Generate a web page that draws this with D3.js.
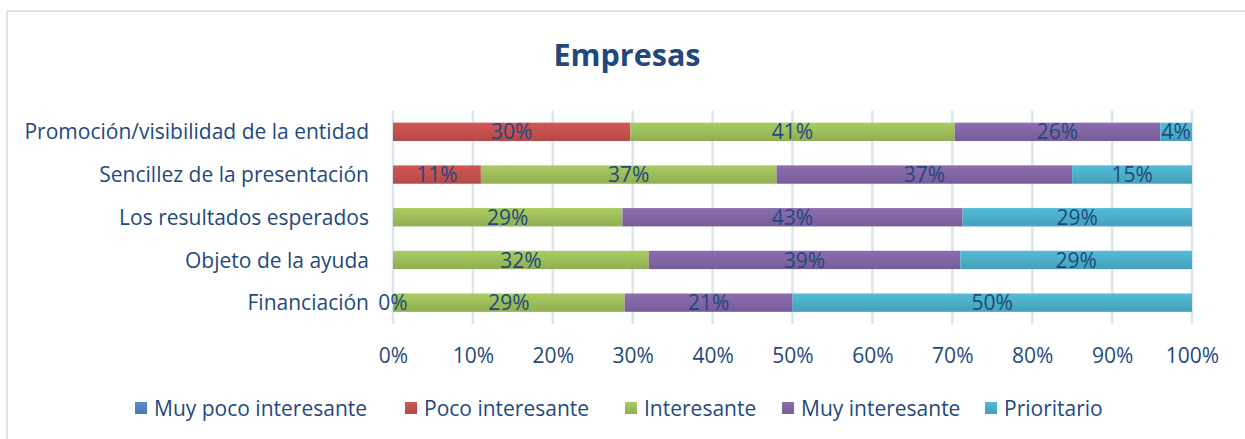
<!DOCTYPE html>
<html>
<head>
<meta charset="utf-8">
<script src="https://cdn.jsdelivr.net/npm/d3@7"></script>
<style>
  html, body { margin: 0; padding: 0; background: #fff; }
  svg { display: block; }
</style>
</head>
<body>
<svg id="chart" width="1245" height="439"></svg>
<script>
const title = "Empresas";
const categories = [
  "Promoción/visibilidad de la entidad",
  "Sencillez de la presentación",
  "Los resultados esperados",
  "Objeto de la ayuda",
  "Financiación"
];
const seriesNames = ["Muy poco interesante", "Poco interesante", "Interesante", "Muy interesante", "Prioritario"];
const seriesColors = ["#4F81BD", "#C0504D", "#9BBB59", "#8064A2", "#4BACC6"];
// values per series, in category order (null = no data)
const muyPoco      = [null, null, null, null, 0];
const poco         = [30, 11, null, null, null];
const interesante  = [41, 37, 29, 32, 29];
const muyInteres   = [26, 37, 43, 39, 21];
const prioritario  = [4, 15, 29, 29, 50];
const tickLabels = ["0%", "10%", "20%", "30%", "40%", "50%", "60%", "70%", "80%", "90%", "100%"];

const seriesValues = [muyPoco, poco, interesante, muyInteres, prioritario];

const svg = d3.select("#chart");
const FONT = "'Open Sans', 'Noto Sans', sans-serif";
const TEXT = "#1F497D";
const FS = 21;

// frame
svg.append("rect").attr("x", 7).attr("y", 11).attr("width", 1260).attr("height", 440)
  .attr("fill", "none").attr("stroke", "#dae5f3").attr("stroke-width", 2);

const x0 = 393, x1 = 1192, yTop = 110.5, yBot = 324;
const x = d3.scaleLinear().domain([0, 1]).range([x0, x1]);
const y = d3.scaleBand().domain(categories).range([yTop, yBot]).paddingInner(0.57).paddingOuter(0.285);

// gradients
const defs = svg.append("defs");
seriesColors.forEach((c, i) => {
  const g = defs.append("linearGradient").attr("id", "g" + i)
    .attr("x1", 0).attr("y1", 0).attr("x2", 0).attr("y2", 1);
  g.append("stop").attr("offset", "0%").attr("stop-color", d3.color(c).brighter(0.25));
  g.append("stop").attr("offset", "100%").attr("stop-color", d3.color(c).darker(0.2));
});

// gridlines
const ticks = d3.range(0, 1.0001, 0.1);
svg.append("g").selectAll("line").data(ticks).join("line")
  .attr("x1", d => x(d)).attr("x2", d => x(d))
  .attr("y1", yTop).attr("y2", yBot)
  .attr("stroke", "#dbe5f2").attr("stroke-width", 2.5);

// stacked normalized data
const rows = categories.map((cat, ci) => {
  const total = d3.sum(seriesValues, s => s[ci] || 0);
  let acc = 0;
  return seriesValues.map((s, si) => {
    const v = s[ci];
    const start = acc / total;
    if (v != null) acc += v;
    return { cat, si, v, x0: start, x1: acc / total };
  });
});
const segs = rows.flat();

svg.append("g").selectAll("rect").data(segs.filter(d => d.v != null && d.v > 0)).join("rect")
  .attr("x", d => x(d.x0)).attr("width", d => x(d.x1) - x(d.x0))
  .attr("y", d => y(d.cat)).attr("height", y.bandwidth())
  .attr("fill", d => `url(#g${d.si})`);

// data labels
svg.append("g").selectAll("text").data(segs.filter(d => d.v != null)).join("text")
  .attr("x", d => (x(d.x0) + x(d.x1)) / 2)
  .attr("y", d => y(d.cat) + y.bandwidth() / 2)
  .attr("dy", "0.36em")
  .attr("text-anchor", "middle")
  .attr("font-family", FONT).attr("font-size", FS).attr("fill", TEXT)
  .text(d => d.v + "%");

// category labels
svg.append("g").selectAll("text").data(categories).join("text")
  .attr("x", 369).attr("y", d => y(d) + y.bandwidth() / 2)
  .attr("dy", "0.36em").attr("text-anchor", "end")
  .attr("font-family", FONT).attr("font-size", FS).attr("fill", TEXT)
  .text(d => d);

// x axis tick labels
const xAxis = d3.axisBottom(x).tickValues(ticks).tickFormat((d, i) => tickLabels[i]).tickSize(0).tickPadding(0);
const ax = svg.append("g").attr("transform", `translate(0, 355)`).call(xAxis);
ax.select(".domain").remove();
ax.selectAll("text").attr("font-family", FONT).attr("font-size", FS).attr("fill", TEXT).attr("dy", "0.36em").attr("y", 0);

// title
svg.append("text").attr("x", 627).attr("y", 55).attr("dy", "0.36em").attr("text-anchor", "middle")
  .attr("font-family", FONT).attr("font-weight", "bold").attr("font-size", 30.5).attr("fill", TEXT)
  .text(title);

// legend
const legendX = [135, 405, 625, 782, 985];
const lg = svg.append("g").selectAll("g").data(seriesNames).join("g")
  .attr("transform", (d, i) => `translate(${legendX[i]}, 408)`);
lg.append("rect").attr("x", 0).attr("y", -6).attr("width", 12).attr("height", 12)
  .attr("fill", (d, i) => `url(#g${i})`);
lg.append("text").attr("x", 19).attr("y", 0).attr("dy", "0.36em")
  .attr("font-family", FONT).attr("font-size", FS).attr("fill", TEXT)
  .text(d => d);
</script>
</body>
</html>
